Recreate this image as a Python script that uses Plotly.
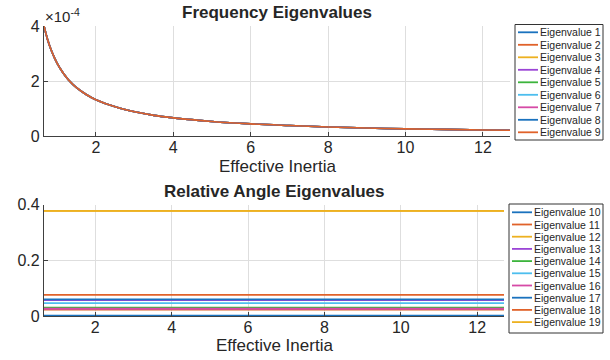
import plotly.graph_objects as go

W, H = 610, 360

# ---------------- data ----------------
inertia = [0.66, 0.75, 0.85, 1.0, 1.15, 1.3, 1.5, 1.75, 2.0, 2.5, 3.0, 3.5, 4.0, 5.0,
           6.0, 7.0, 8.0, 9.0, 10.0, 11.0, 12.0, 12.7]
freq_eig = [4.0e-4, 3.52e-4, 3.11e-4, 2.64e-4, 2.30e-4, 2.03e-4, 1.76e-4, 1.51e-4, 1.32e-4,
            1.06e-4, 0.88e-4, 0.75e-4, 0.66e-4, 0.53e-4, 0.44e-4, 0.38e-4, 0.33e-4, 0.29e-4,
            0.26e-4, 0.24e-4, 0.22e-4, 0.21e-4]
freq_names = [f"Eigenvalue {i}" for i in range(1, 10)]

angle_x = [0.66, 12.7]
angle_names = [f"Eigenvalue {i}" for i in range(10, 20)]
angle_eig = [0.001, 0.023, 0.378, 0.057, 0.030, 0.046, 0.026, 0.060, 0.076, 0.378]

palette = ["#1A72BE", "#E0622A", "#EDB120", "#9B45D6", "#3CB43C", "#4DBEEE", "#D64AA6"]

x_ticks = [2, 4, 6, 8, 10, 12]
freq_ticks = [0, 2e-4, 4e-4]
freq_ticktext = ["0", "2", "4"]
angle_ticks = [0, 0.2, 0.4]
angle_ticktext = ["0", "0.2", "0.4"]

# ---------------- layout helpers ----------------
def px(x):
    return x / W

def py(y):
    return 1 - y / H

top_dom_x = [px(44), px(510)]
top_dom_y = [py(136), py(26)]
bot_dom_x = [px(44), px(504)]
bot_dom_y = [py(316), py(204.7)]

AX = "#404040"
GRID = "#DEDEDE"
FONT = "Liberation Sans, Arial, Helvetica, sans-serif"

fig = go.Figure()

for i, name in enumerate(freq_names):
    fig.add_trace(go.Scatter(x=inertia, y=freq_eig, mode="lines", name=name,
                             line=dict(color=palette[i % 7], width=1.6, shape="spline"),
                             xaxis="x", yaxis="y", showlegend=False))

for i, name in enumerate(angle_names):
    fig.add_trace(go.Scatter(x=angle_x, y=[angle_eig[i]] * 2, mode="lines", name=name,
                             line=dict(color=palette[i % 7], width=1.8),
                             xaxis="x2", yaxis="y2", showlegend=False))

axis_common = dict(showgrid=True, gridcolor=GRID, gridwidth=1, showline=True,
                   linecolor=AX, linewidth=1.2, ticks="inside", ticklen=4,
                   tickcolor=AX, tickfont=dict(size=16, color="#262626", family=FONT),
                   zeroline=False, mirror=False, automargin=False)

fig.update_layout(
    width=W, height=H, margin=dict(l=0, r=0, t=0, b=0, autoexpand=False),
    paper_bgcolor="white", plot_bgcolor="white",
    font=dict(family=FONT, color="#262626"),
    showlegend=False,
    xaxis=dict(domain=top_dom_x, range=[0.66, 12.7], tickvals=x_ticks, anchor="y",
               ticklabelstandoff=-3, **axis_common),
    yaxis=dict(domain=top_dom_y, range=[0, 4e-4], tickvals=freq_ticks, ticktext=freq_ticktext,
               anchor="x", **axis_common),
    xaxis2=dict(domain=bot_dom_x, range=[0.66, 12.7], tickvals=x_ticks, anchor="y2",
                ticklabelstandoff=-3, **axis_common),
    yaxis2=dict(domain=bot_dom_y, range=[0, 0.4], tickvals=angle_ticks, ticktext=angle_ticktext,
                anchor="x2", **axis_common),
)

ann = []
shapes = []

def text(x, y, s, size, xanchor="center"):
    ann.append(dict(x=px(x), y=py(y), xref="paper", yref="paper", xanchor=xanchor,
                    yanchor="middle", text=s, showarrow=False,
                    font=dict(size=size, family=FONT, color="#262626")))

# titles and axis labels
text(277, 13, "<b>Frequency Eigenvalues</b>", 17)
text(277, 166, "Effective Inertia", 17)
text(274, 191, "<b>Relative Angle Eigenvalues</b>", 17)
text(274, 345, "Effective Inertia", 17)
text(43, 16, "\u00d710<sup>-4</sup>", 15, xanchor="left")

# legends
def legend(names, colors, x0, x1, y0, y1, row0, step, lx0, lx1, tx):
    shapes.append(dict(type="rect", xref="paper", yref="paper", x0=px(x0), x1=px(x1),
                       y0=py(y1), y1=py(y0), line=dict(color="#333333", width=1),
                       fillcolor="white", layer="above"))
    for k, name in enumerate(names):
        yy = row0 + k * step
        shapes.append(dict(type="line", xref="paper", yref="paper", x0=px(lx0), x1=px(lx1),
                           y0=py(yy), y1=py(yy), line=dict(color=colors[k], width=1.8),
                           layer="above"))
        text(tx, yy, name, 10.5, xanchor="left")

legend(freq_names, [palette[i % 7] for i in range(9)], 515, 603, 24.5, 140, 32.3, 12.5, 518, 538, 538)
legend(angle_names, [palette[i % 7] for i in range(10)], 509, 603, 204, 333, 212.3, 12.2, 512, 532, 532)

fig.update_layout(annotations=ann, shapes=shapes)

fig.write_html("out.html", config={"displayModeBar": False},
               post_script="document.body.style.margin='0px';")
